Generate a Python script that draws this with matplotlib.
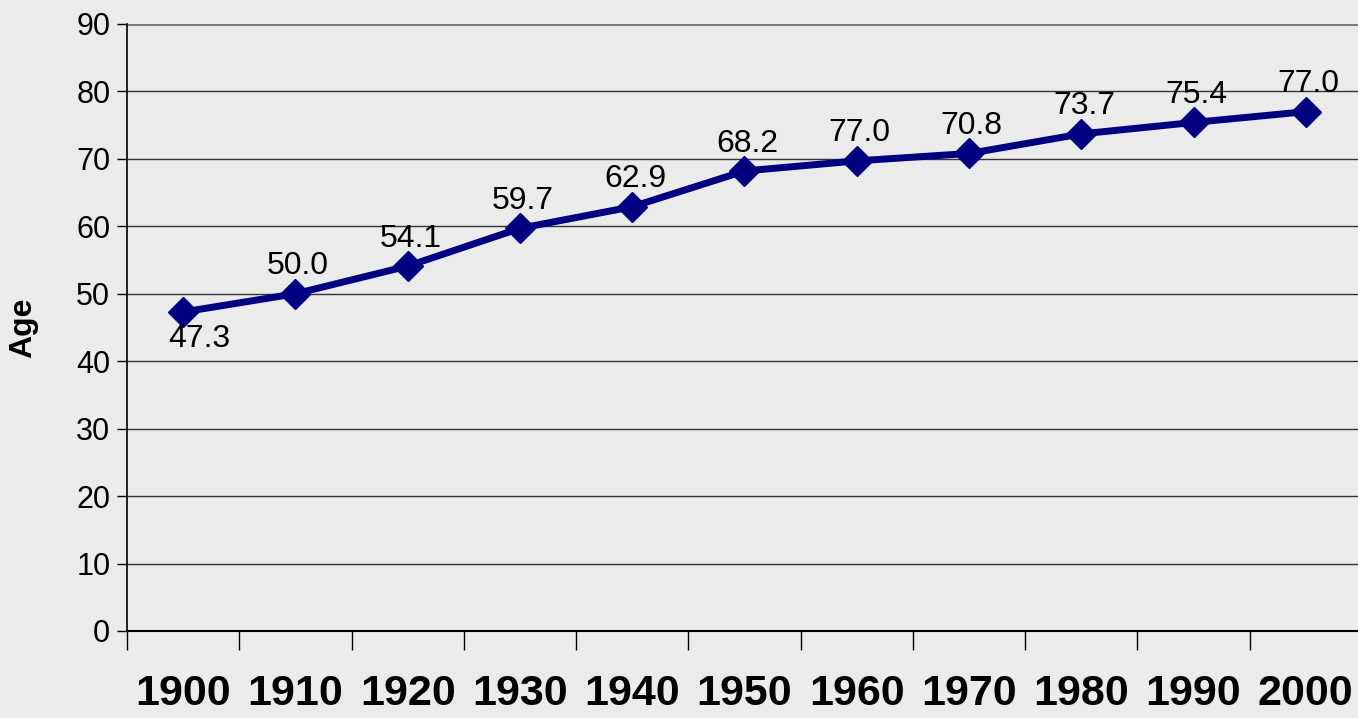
import numpy as np
import matplotlib.pyplot as plt

years = ["1900", "1910", "1920", "1930", "1940", "1950",
         "1960", "1970", "1980", "1990", "2000"]
age = [47.3, 50.0, 54.1, 59.7, 62.9, 68.2, 69.7, 70.8, 73.7, 75.4, 77.0]
# labels as printed on the original slide (1960 reads 77.0 there)
point_labels = ["47.3", "50.0", "54.1", "59.7", "62.9", "68.2",
                "77.0", "70.8", "73.7", "75.4", "77.0"]
y_ticks = np.arange(0, 91, 10)

fig = plt.figure(figsize=(13.58, 7.18), dpi=100, facecolor="#ebebeb")
ax = fig.add_axes([0.0935, 0.1212, 0.9094, 0.8454])
ax.set_facecolor("none")

x = np.arange(len(years))
ax.plot(x, age, color="#000080", lw=5, marker="D", ms=15, zorder=3)

for i, (v, t) in enumerate(zip(age, point_labels)):
    if i == 0:
        ax.annotate(t, (i, v), xytext=(12, -9), textcoords="offset points",
                    ha="center", va="top", fontsize=23, family="Liberation Sans")
    else:
        ax.annotate(t, (i, v), xytext=(2, 9), textcoords="offset points",
                    ha="center", va="bottom", fontsize=23, family="Liberation Sans")

ax.set_xlim(-0.5, 10.5)
ax.set_ylim(0, 90)
ax.set_yticks(y_ticks)
ax.set_yticklabels([str(v) for v in y_ticks], fontsize=22, family="Liberation Sans")
ax.grid(axis="y", color="#333333", lw=1)
ax.tick_params(axis="y", length=7, width=1, pad=5)

ax.set_xticks(np.arange(-0.5, 11, 1))
ax.set_xticklabels([])
ax.tick_params(axis="x", which="major", length=14, width=1)
ax.set_xticks(x, minor=True)
ax.set_xticklabels(years, minor=True, fontsize=31, fontweight="bold",
                   family="Liberation Sans")
ax.tick_params(axis="x", which="minor", length=0, pad=31)

for s in ["top", "right"]:
    ax.spines[s].set_visible(False)
ax.spines["left"].set_linewidth(1.2)
ax.spines["bottom"].set_linewidth(1.5)
ax.axhline(90, color="#777777", lw=2)

ax.set_ylabel("Age", fontsize=23, fontweight="bold", family="Liberation Sans",
              va="center")
ax.yaxis.set_label_coords(-0.084, 0.5)

fig.savefig("out.png", dpi=100, facecolor=fig.get_facecolor())
